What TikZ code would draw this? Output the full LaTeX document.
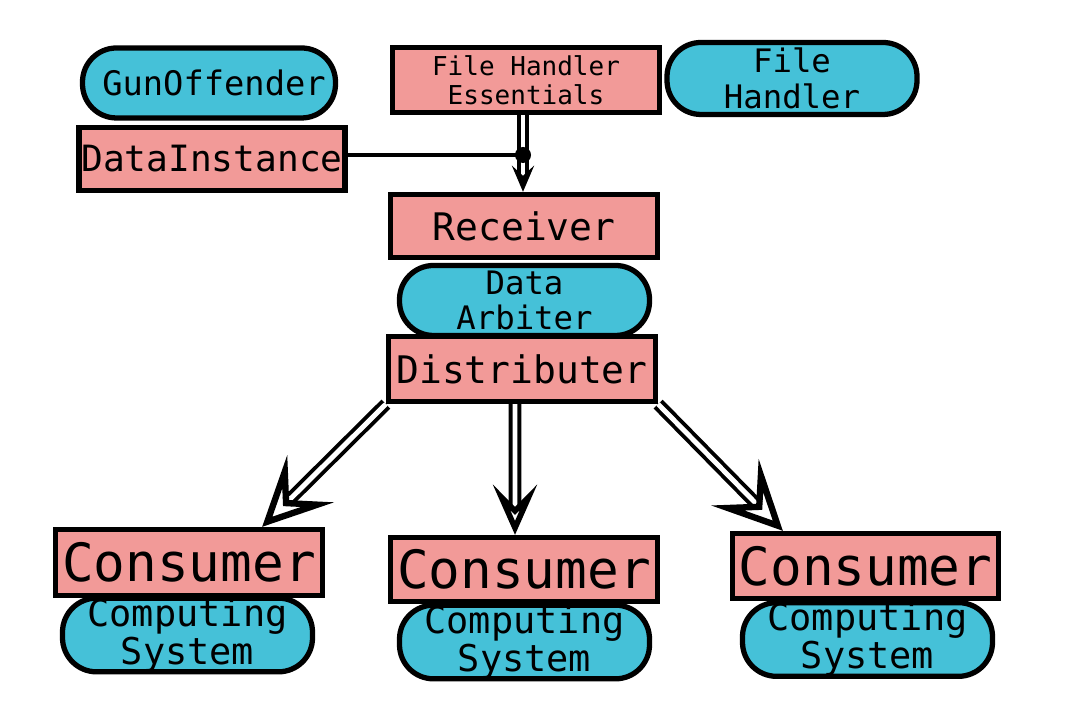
\documentclass[tikz,border=0pt]{standalone}
\usepackage{fontspec}
\setmonofont{DejaVu Sans Mono}
\usetikzlibrary{arrows.meta}
\definecolor{boxpink}{RGB}{242,154,152}
\definecolor{pillcyan}{RGB}{69,193,216}
\newcommand{\fsz}[2]{\ttfamily\fontsize{#1}{#2}\selectfont}
\tikzset{
  box/.style={draw, fill=boxpink, line width=1.5pt, inner sep=0pt,
    minimum width=2.67cm, minimum height=0.65cm, align=center},
  pill/.style={draw, fill=pillcyan, rounded corners=0.34cm, line width=1.5pt,
    inner sep=0pt, minimum width=2.5cm, minimum height=0.7cm, align=center},
  flow/.style={double, double distance=1.4pt, line width=1.1pt},
  bigtip/.style={flow, -{Stealth[open, line width=1.8pt, length=0.68cm, width=0.66cm, inset=0.3cm]}},
  midtip/.style={flow, -{Stealth[open, line width=1.6pt, length=0.5cm, width=0.44cm, inset=0.22cm]}},
  smalltip/.style={flow, -{Stealth[open, line width=1.2pt, length=0.26cm, width=0.22cm, inset=0.1cm]}}
}
\begin{document}
\begin{tikzpicture}
\useasboundingbox (0,0) rectangle (10.8,7.2);
% pills first, boxes drawn over them
\node[pill, minimum width=2.53cm, font=\fsz{9.6}{11}] (gun) at (2.09,6.37) {\hspace*{0.1cm}GunOffender};
\node[pill, minimum height=0.72cm, font=\fsz{9.2}{10.4}] (fh) at (7.92,6.415) {File\\Handler};
\node[pill, font=\fsz{9.2}{10.2}] (arbiter) at (5.245,4.195) {Data\\Arbiter};
\node[pill, minimum height=0.69cm, font=\fsz{10.5}{10.8}] (cs1) at (1.875,0.85) {Computing\\System};
\node[pill, minimum height=0.71cm, font=\fsz{10.5}{10.8}] (cs2) at (5.245,0.78) {Computing\\System};
\node[pill, font=\fsz{10.5}{10.8}] (cs3) at (8.675,0.805) {Computing\\System};

\node[box, minimum width=2.66cm, minimum height=0.63cm, font=\fsz{10.3}{12}] (data) at (2.12,5.61) {DataInstance};
\node[box, font=\fsz{7.4}{8.2}] (fhe) at (5.26,6.40) {File Handler\\Essentials};
\node[box, minimum height=0.63cm, font=\fsz{10.8}{12}] (recv) at (5.24,4.94) {Receiver};
\node[box, font=\fsz{10.8}{12}] (dist) at (5.22,3.51) {Distributer};
\node[box, minimum height=0.66cm, font=\fsz{15}{16}] (con1) at (1.89,1.575) {Consumer};
\node[box, minimum height=0.64cm, font=\fsz{15}{16}] (con2) at (5.24,1.505) {Consumer};
\node[box, minimum width=2.66cm, font=\fsz{15}{16}] (con3) at (8.655,1.54) {Consumer};

\coordinate (dot) at (5.23,5.65);
\draw[line width=1.4pt] (data.east |- dot) -- (dot);
\draw[smalltip] (fhe.south -| dot) -- (recv.north -| dot);
\fill (dot) circle (0.08cm);

\draw[bigtip] (dist.south west) -- ([xshift=-0.63cm]con1.north east);
\draw[midtip] ([xshift=-0.07cm]dist.south) -- ([xshift=-0.09cm]con2.north);
\draw[bigtip] (dist.south east) -- ([xshift=0.53cm]con3.north west);
\end{tikzpicture}
\end{document}
